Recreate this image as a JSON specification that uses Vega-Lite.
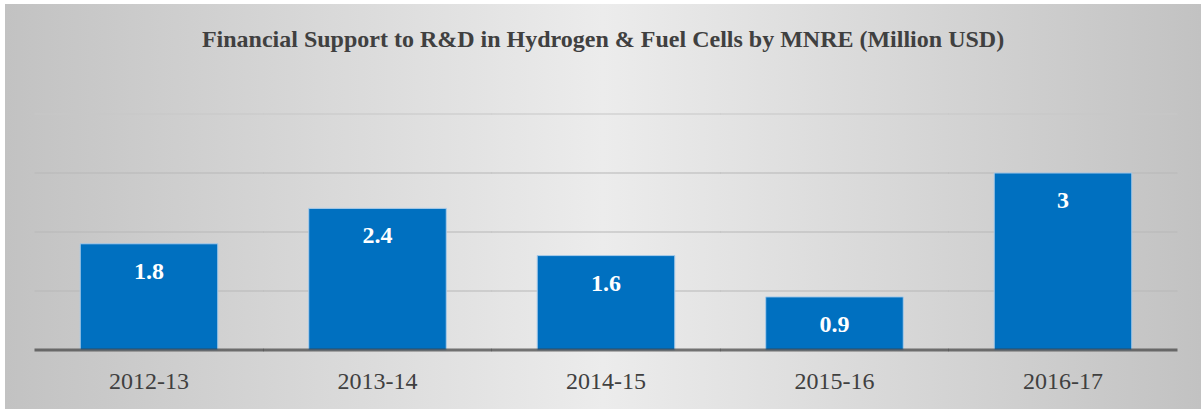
{
  "$schema": "https://vega.github.io/schema/vega-lite/v6.json",
  "width": 1196,
  "height": 405,
  "autosize": {"type": "none"},
  "padding": {"left": 5, "top": 4, "right": 0, "bottom": 0},
  "background": "white",
  "view": {"stroke": null},
  "title": {
    "text": "Financial Support to R&D in Hydrogen & Fuel Cells by MNRE (Million USD)",
    "font": "Liberation Serif",
    "fontSize": 24,
    "fontWeight": "bold",
    "color": "#404040",
    "anchor": "middle",
    "baseline": "middle",
    "offset": -60
  },
  "data": {
    "values": [
      {"year": "2012-13", "value": 1.8},
      {"year": "2013-14", "value": 2.4},
      {"year": "2014-15", "value": 1.6},
      {"year": "2015-16", "value": 0.9},
      {"year": "2016-17", "value": 3}
    ]
  },
  "layer": [
    {
      "transform": [{"aggregate": [{"op": "count", "as": "n"}]}],
      "mark": {
        "type": "rect",
        "fill": {
          "gradient": "linear",
          "x1": 0, "y1": 0, "x2": 1, "y2": 0,
          "stops": [
            {"offset": 0, "color": "#c2c2c2"},
            {"offset": 0.5, "color": "#ececec"},
            {"offset": 1, "color": "#c2c2c2"}
          ]
        }
      },
      "encoding": {}
    },
    {
      "mark": {"type": "tick", "orient": "horizontal", "size": 229, "thickness": 1.5, "color": "#b9b9b9"},
      "encoding": {
        "x": {"field": "year", "type": "nominal", "axis": {"title": null, "orient": "bottom", "offset": -59, "zindex": 1, "domain": false, "ticks": false, "grid": false, "bandPosition": 0.5, "labelAlign": "center", "labelAngle": 0, "labelFont": "Liberation Serif", "labelFontSize": 24, "labelColor": "#404040", "labelBaseline": "middle", "labelPadding": 31}},
        "y": {"datum": 1, "type": "quantitative", "axis": null}
      }
    },
    {
      "mark": {"type": "tick", "orient": "horizontal", "size": 229, "thickness": 1.5, "color": "#b9b9b9"},
      "encoding": {
        "x": {"field": "year", "type": "nominal", "axis": {"title": null, "orient": "bottom", "offset": -59, "zindex": 1, "domain": false, "ticks": false, "grid": false, "bandPosition": 0.5, "labelAlign": "center", "labelAngle": 0, "labelFont": "Liberation Serif", "labelFontSize": 24, "labelColor": "#404040", "labelBaseline": "middle", "labelPadding": 31}},
        "y": {"datum": 2, "type": "quantitative", "axis": null}
      }
    },
    {
      "mark": {"type": "tick", "orient": "horizontal", "size": 229, "thickness": 1.5, "color": "#b9b9b9"},
      "encoding": {
        "x": {"field": "year", "type": "nominal", "axis": {"title": null, "orient": "bottom", "offset": -59, "zindex": 1, "domain": false, "ticks": false, "grid": false, "bandPosition": 0.5, "labelAlign": "center", "labelAngle": 0, "labelFont": "Liberation Serif", "labelFontSize": 24, "labelColor": "#404040", "labelBaseline": "middle", "labelPadding": 31}},
        "y": {"datum": 3, "type": "quantitative", "axis": null}
      }
    },
    {
      "mark": {"type": "tick", "orient": "horizontal", "size": 229, "thickness": 1.5, "color": "#c8c8c8"},
      "encoding": {
        "x": {"field": "year", "type": "nominal", "axis": {"title": null, "orient": "bottom", "offset": -59, "zindex": 1, "domain": false, "ticks": false, "grid": false, "bandPosition": 0.5, "labelAlign": "center", "labelAngle": 0, "labelFont": "Liberation Serif", "labelFontSize": 24, "labelColor": "#404040", "labelBaseline": "middle", "labelPadding": 31}},
        "y": {"datum": 4, "type": "quantitative", "axis": null}
      }
    },
    {
      "mark": {"type": "bar", "width": {"band": 0.602}, "color": "#0070C0", "stroke": "#a9cbe9", "strokeWidth": 1},
      "encoding": {
        "x": {
          "field": "year",
          "type": "nominal",
          "scale": {"paddingInner": 0, "paddingOuter": 0.1171, "align": 0.556},
          "axis": {"title": null, "orient": "bottom", "offset": -59, "zindex": 1, "domain": false, "ticks": false, "grid": false, "bandPosition": 0.5, "labelAlign": "center", "labelAngle": 0, "labelFont": "Liberation Serif", "labelFontSize": 24, "labelColor": "#404040", "labelBaseline": "middle", "labelPadding": 31}
        },
        "y": {
          "field": "value",
          "type": "quantitative",
          "scale": {"domain": [-1, 5.864], "nice": false, "zero": false},
          "axis": null
        }
      }
    },
    {
      "mark": {"type": "tick", "orient": "horizontal", "size": 229, "thickness": 3, "color": "#404040"},
      "encoding": {
        "x": {"field": "year", "type": "nominal", "axis": {"title": null, "orient": "bottom", "offset": -59, "zindex": 1, "domain": false, "ticks": false, "grid": false, "bandPosition": 0.5, "labelAlign": "center", "labelAngle": 0, "labelFont": "Liberation Serif", "labelFontSize": 24, "labelColor": "#404040", "labelBaseline": "middle", "labelPadding": 31}},
        "y": {"datum": 0, "type": "quantitative", "axis": null}
      }
    },
    {
      "mark": {"type": "text", "color": "white", "font": "Liberation Serif", "fontSize": 24, "fontWeight": "bold", "baseline": "middle", "dy": 28},
      "encoding": {
        "x": {"field": "year", "type": "nominal", "axis": {"title": null, "orient": "bottom", "offset": -59, "zindex": 1, "domain": false, "ticks": false, "grid": false, "bandPosition": 0.5, "labelAlign": "center", "labelAngle": 0, "labelFont": "Liberation Serif", "labelFontSize": 24, "labelColor": "#404040", "labelBaseline": "middle", "labelPadding": 31}},
        "y": {"field": "value", "type": "quantitative", "axis": null},
        "text": {"field": "value", "type": "quantitative"}
      }
    }
  ]
}
